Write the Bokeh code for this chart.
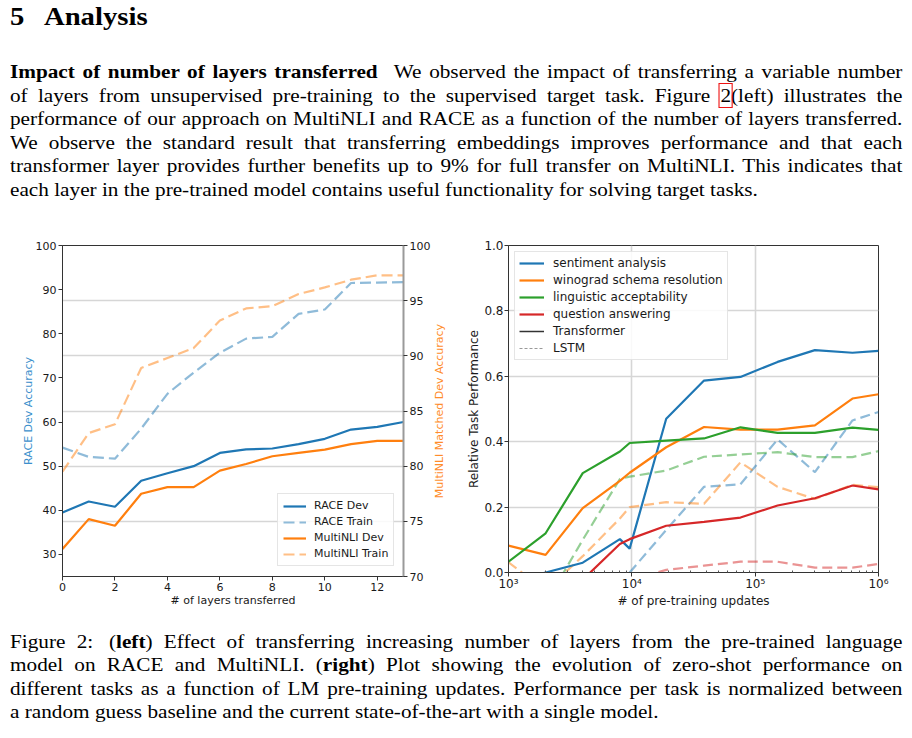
import math
from bokeh.plotting import figure
from bokeh.models import (Range1d, LinearAxis, FixedTicker, Grid, Legend, LegendItem,
                          CustomJSTickFormatter, PrintfTickFormatter, Div)
from bokeh.layouts import column, row
from bokeh.embed import file_html
from bokeh.resources import INLINE

nan = float("nan")

# ---------------- left chart data ----------------
layers = list(range(14))
race_dev = [39.5, 42.0, 40.8, 46.7, 48.4, 50.0, 53.0, 53.8, 54.0, 55.0, 56.2, 58.3, 58.9, 60.0]
race_train = [54.2, 52.1, 51.7, 58.5, 66.4, 71.2, 75.7, 78.9, 79.3, 84.5, 85.5, 91.5, 91.6, 91.7]
mnli_dev = [72.5, 75.2, 74.6, 77.5, 78.1, 78.1, 79.6, 80.2, 80.9, 81.2, 81.5, 82.0, 82.3, 82.3]
mnli_train = [79.5, 83.0, 83.8, 88.9, 89.8, 90.7, 93.2, 94.3, 94.5, 95.6, 96.2, 96.9, 97.3, 97.3]
race_ticks = [30, 40, 50, 60, 70, 80, 90, 100]
mnli_ticks = [70, 75, 80, 85, 90, 95, 100]
mnli_grid = [75, 80, 85, 90, 95]
layer_ticks = [0, 2, 4, 6, 8, 10, 12]

# ---------------- right chart data ----------------
updates = [1000, 2000, 4000, 8000, 9600, 19000, 38500, 76000, 152000, 305000, 615000, 1000000]
sentiment = [-0.03, 0.0, 0.03, 0.102, 0.073, 0.47, 0.587, 0.598, 0.644, 0.68, 0.672, 0.678]
winograd = [0.082, 0.054, 0.197, 0.28, 0.305, 0.383, 0.445, 0.437, 0.437, 0.45, 0.532, 0.545]
linguistic = [0.033, 0.12, 0.304, 0.37, 0.396, 0.403, 0.41, 0.444, 0.427, 0.427, 0.443, 0.436]
qa = [nan, nan, -0.022, 0.087, 0.102, 0.143, 0.155, 0.168, 0.205, 0.227, 0.266, 0.254]
sentiment_lstm = [nan, nan, nan, nan, 0.0, 0.13, 0.262, 0.27, 0.407, 0.307, 0.465, 0.491]
winograd_lstm = [0.031, -0.056, 0.05, 0.165, 0.2, 0.215, 0.21, 0.337, 0.262, 0.225, 0.268, 0.261]
linguistic_lstm = [nan, -0.094, 0.1, 0.286, 0.293, 0.312, 0.354, 0.361, 0.368, 0.353, 0.353, 0.371]
qa_lstm = [nan, nan, nan, nan, -0.024, 0.008, 0.021, 0.033, 0.033, 0.015, 0.015, 0.026]
perf_ticks = [0.0, 0.2, 0.4, 0.6, 0.8, 1.0]
update_ticks = [1e3, 1e4, 1e5, 1e6]

BLUE, ORANGE, GREEN, RED = "#1f77b4", "#ff7f0e", "#2ca02c", "#d62728"
FONT = "DejaVu Sans"
INK = "#1a1a1a"
GRID = "#d6d6d6"

# ================= left figure =================
p1 = figure(width=433, height=389, output_backend="svg", toolbar_location=None,
            x_range=Range1d(0, 13), y_range=Range1d(25, 100),
            min_border_left=62, min_border_right=28, min_border_top=14, min_border_bottom=42,
            margin=0)
p1.extra_y_ranges = {"mnli": Range1d(70, 100)}
p1.xgrid.visible = False
p1.ygrid.visible = False
p1.outline_line_color = "#333333"
p1.outline_line_width = 1
p1.background_fill_color = "white"
p1.border_fill_color = "white"

p1.add_layout(Grid(dimension=1, y_range_name="mnli", ticker=FixedTicker(ticks=mnli_grid),
                   grid_line_color=GRID, grid_line_width=1.6), "center")

ax_r = LinearAxis(y_range_name="mnli", ticker=FixedTicker(ticks=mnli_ticks))
p1.add_layout(ax_r, "right")

for ax in [p1.xaxis[0], p1.yaxis[0], ax_r]:
    ax.major_label_text_font = FONT
    ax.major_label_text_font_size = "11px"
    ax.major_label_text_color = INK
    ax.axis_label_text_font = FONT
    ax.axis_label_text_font_size = "11px"
    ax.axis_label_text_font_style = "normal"
    ax.major_tick_in = 0
    ax.major_tick_out = 4
    ax.major_tick_line_color = "#333333"
    ax.minor_tick_line_color = None
    ax.axis_line_color = "#333333"
    ax.major_label_standoff = 2

p1.xaxis.ticker = FixedTicker(ticks=layer_ticks)
p1.xaxis.axis_label = "# of layers transferred"
p1.xaxis.axis_label_text_color = INK
p1.xaxis.major_label_standoff = 2
p1.xaxis.axis_label_standoff = 0

p1.yaxis[0].ticker = FixedTicker(ticks=race_ticks)
p1.yaxis[0].axis_label = "RACE Dev Accuracy"
p1.yaxis[0].axis_label_text_color = "#3b8fcc"
p1.yaxis[0].axis_label_standoff = -2

ax_r.axis_line_color = "#9a9a9a"
ax_r.axis_line_width = 2

r_rd = p1.line(layers, race_dev, line_color=BLUE, line_width=2.2)
r_rt = p1.line(layers, race_train, line_color=BLUE, line_width=2.2, line_alpha=0.5, line_dash="11 5")
r_md = p1.line(layers, mnli_dev, line_color=ORANGE, line_width=2.2, y_range_name="mnli")
r_mt = p1.line(layers, mnli_train, line_color=ORANGE, line_width=2.2, line_alpha=0.5, line_dash="11 5",
               y_range_name="mnli")

leg1 = Legend(items=[LegendItem(label="RACE Dev", renderers=[r_rd]),
                     LegendItem(label="RACE Train", renderers=[r_rt]),
                     LegendItem(label="MultiNLI Dev", renderers=[r_md]),
                     LegendItem(label="MultiNLI Train", renderers=[r_mt])],
              location=(215, 10), label_text_font=FONT, label_text_font_size="11px",
              label_text_color=INK, glyph_width=23, glyph_height=12, label_height=12,
              spacing=3, padding=5, label_standoff=8, margin=0,
              border_line_color="#cccccc", background_fill_alpha=0.85)
p1.add_layout(leg1, "center")

# right-hand axis title of the left chart (reads bottom-to-top, as in the reference)
MNLI_TITLE = "MultiNLI Matched Dev Accuracy"
rlab_html = (
    '<div style="position:relative;width:27px;height:389px;">'
    '<div style="position:absolute;left:-160.5px;top:173.5px;width:333px;height:14px;'
    'line-height:14px;text-align:center;white-space:nowrap;'
    'transform:rotate(-90deg);transform-origin:center;'
    "font-family:'DejaVu Sans';font-size:11px;color:#ff8c2a;\">" + MNLI_TITLE + '</div></div>'
)
div_rlab = Div(text=rlab_html, width=27, height=389, margin=0)

# ================= right figure =================
p2 = figure(width=452, height=385, output_backend="svg", toolbar_location=None,
            x_axis_type="log", x_range=Range1d(1e3, 1e6), y_range=Range1d(0, 1),
            min_border_left=48, min_border_right=34, min_border_top=15, min_border_bottom=43,
            margin=0)
p2.outline_line_color = "#333333"
p2.outline_line_width = 1
p2.background_fill_color = "white"
p2.border_fill_color = "white"

minor = [m * 10 ** k for k in range(3, 6) for m in range(2, 10)]
p2.xaxis.ticker = FixedTicker(ticks=update_ticks, minor_ticks=minor)
p2.xaxis.formatter = CustomJSTickFormatter(code="""
const e = Math.round(Math.log(tick) / Math.LN10);
const sup = {3: "\\u00b3", 4: "\\u2074", 5: "\\u2075", 6: "\\u2076"};
return "10" + (sup[e] || String(e));
""")
p2.yaxis.ticker = FixedTicker(ticks=perf_ticks)
p2.yaxis.formatter = PrintfTickFormatter(format="%.1f")
p2.xgrid.ticker = FixedTicker(ticks=update_ticks)
p2.ygrid.ticker = FixedTicker(ticks=perf_ticks)
for g in [p2.xgrid[0], p2.ygrid[0]]:
    g.grid_line_color = GRID
    g.grid_line_width = 1.6

for ax in [p2.xaxis[0], p2.yaxis[0]]:
    ax.major_label_text_font = FONT
    ax.major_label_text_font_size = "12px"
    ax.major_label_text_color = INK
    ax.axis_label_text_font = FONT
    ax.axis_label_text_font_size = "12px"
    ax.axis_label_text_font_style = "normal"
    ax.axis_label_text_color = INK
    ax.major_tick_in = 0
    ax.major_tick_out = 4
    ax.major_tick_line_color = "#333333"
    ax.axis_line_color = "#333333"
p2.yaxis.minor_tick_line_color = None
p2.xaxis.minor_tick_in = 2
p2.xaxis.minor_tick_out = 0
p2.xaxis.minor_tick_line_color = "#555555"
p2.xaxis.major_label_standoff = 0
p2.xaxis.axis_label_standoff = 0
p2.xaxis.axis_label = "# of pre-training updates"
p2.yaxis.major_label_standoff = 1
p2.yaxis.axis_label_standoff = 0
p2.yaxis.axis_label = "Relative Task Performance"

LW = 2.2
DASH = "10 5"
# LSTM (dashed, faded)
p2.line(updates, sentiment_lstm, line_color=BLUE, line_width=LW, line_alpha=0.5, line_dash=DASH)
p2.line(updates, winograd_lstm, line_color=ORANGE, line_width=LW, line_alpha=0.5, line_dash=DASH)
p2.line(updates, linguistic_lstm, line_color=GREEN, line_width=LW, line_alpha=0.5, line_dash=DASH)
p2.line(updates, qa_lstm, line_color=RED, line_width=LW, line_alpha=0.5, line_dash=DASH)
# Transformer (solid)
r_s = p2.line(updates, sentiment, line_color=BLUE, line_width=LW)
r_w = p2.line(updates, winograd, line_color=ORANGE, line_width=LW)
r_l = p2.line(updates, linguistic, line_color=GREEN, line_width=LW)
r_q = p2.line(updates, qa, line_color=RED, line_width=LW)
# legend-only style keys (no visible data)
r_t = p2.line([1e3, 1e3], [nan, nan], line_color="#333333", line_width=1.5)
r_lstm = p2.line([1e3, 1e3], [nan, nan], line_color="#999999", line_width=1.2, line_dash="3 2")

leg2 = Legend(items=[LegendItem(label="sentiment analysis", renderers=[r_s]),
                     LegendItem(label="winograd schema resolution", renderers=[r_w]),
                     LegendItem(label="linguistic acceptability", renderers=[r_l]),
                     LegendItem(label="question answering", renderers=[r_q]),
                     LegendItem(label="Transformer", renderers=[r_t]),
                     LegendItem(label="LSTM", renderers=[r_lstm])],
              location="top_left", label_text_font=FONT, label_text_font_size="12px",
              label_text_color=INK, glyph_width=25, glyph_height=14, label_height=14,
              spacing=3, padding=4, label_standoff=9, margin=6,
              border_line_color="#cccccc", background_fill_alpha=0.85)
p2.add_layout(leg2, "center")

# ================= text blocks =================
SERIF = "'Liberation Serif', 'Times New Roman', serif"
SX = 1.095
INNER_W = 815


def jline(html, last=False):
    tal = "left" if last else "justify"
    return ('<div style="text-align:justify;text-align-last:' + tal + ';">' + html + '</div>')


para_lines = [
    '<b>Impact of number of layers transferred</b><span style="display:inline-block;width:8px"></span> '
    'We observed the impact of transferring a variable number',
    'of layers from unsupervised pre-training to the supervised target task. Figure '
    '<span style="outline:1px solid #ee1111;outline-offset:1px;">2</span>(left) illustrates the',
    'performance of our approach on MultiNLI and RACE as a function of the number of layers transferred.',
    'We observe the standard result that transferring embeddings improves performance and that each',
    'transformer layer provides further benefits up to 9% for full transfer on MultiNLI. This indicates that',
    'each layer in the pre-trained model contains useful functionality for solving target tasks.',
]
caption_lines = [
    'Figure 2:<span style="display:inline-block;width:4px"></span> (<b>left</b>) Effect of transferring '
    'increasing number of layers from the pre-trained language',
    'model on RACE and MultiNLI. (<b>right</b>) Plot showing the evolution of zero-shot performance on',
    'different tasks as a function of LM pre-training updates. Performance per task is normalized between',
    'a random guess baseline and the current state-of-the-art with a single model.',
]

wrap_style = ("font-family:" + SERIF + ";color:#000;width:" + str(INNER_W) + "px;margin-left:10px;"
              "transform:scaleX(" + str(SX) + ");transform-origin:0 0;")

top_html = (
    '<div style="font-family:' + SERIF + ';color:#000;margin-left:10px;margin-top:5px;'
    'transform:scaleX(1.149);transform-origin:0 0;font-size:25px;font-weight:bold;'
    'line-height:24px;white-space:nowrap;">5'
    '<span style="display:inline-block;width:17px"></span>Analysis</div>'
    + '<div style="' + wrap_style + ' margin-top:31px;font-size:19.4px;line-height:23.5px;">'
    + "".join(jline(t, last=(i == len(para_lines) - 1)) for i, t in enumerate(para_lines))
    + '</div>'
)
cap_html = (
    '<div style="' + wrap_style + ' padding-top:11px;font-size:19.4px;line-height:23.4px;">'
    + "".join(jline(t, last=(i == len(caption_lines) - 1)) for i, t in enumerate(caption_lines))
    + '</div>'
)

div_top = Div(text=top_html, width=912, height=230, margin=0)
div_cap = Div(text=cap_html, width=912, height=116, margin=0)

layout = column(div_top, row(p1, div_rlab, p2, spacing=0, margin=0), div_cap, spacing=0, margin=0)

with open("out.html", "w", encoding="utf-8") as f:
    f.write(file_html(layout, INLINE))
